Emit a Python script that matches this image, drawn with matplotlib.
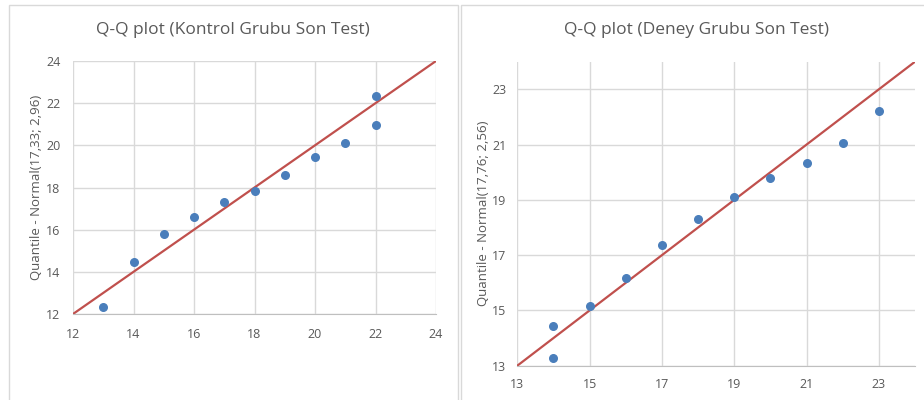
import matplotlib.pyplot as plt
from matplotlib.patches import Rectangle

# Kontrol grubu (sol panel)
kontrol_x = [13, 14, 15, 16, 17, 18, 19, 20, 21, 22, 22]
kontrol_y = [12.33, 14.48, 15.80, 16.61, 17.33, 17.84, 18.59, 19.43, 20.09, 20.96, 22.35]
kontrol_ticks = [12, 14, 16, 18, 20, 22, 24]

# Deney grubu (sag panel)
deney_x = [14, 14, 15, 16, 17, 18, 19, 20, 21, 22, 23]
deney_y = [14.43, 13.29, 15.15, 16.16, 17.38, 18.31, 19.11, 19.80, 20.35, 21.07, 22.23]
deney_ticks = [13, 15, 17, 19, 21, 23]

plt.rcParams['font.family'] = ['Open Sans', 'DejaVu Sans']
txt = '#595959'
grid = '#d9d9d9'
blue = '#4a7ebb'
red = '#c0504d'

fig = plt.figure(figsize=(9.24, 4.0), dpi=100)

# panel frames
fig.patches.append(Rectangle((9 / 924, -0.1), 449 / 924, 1.1 - 5 / 400, transform=fig.transFigure,
                             fill=False, edgecolor='#d9d9d9', lw=1))
fig.patches.append(Rectangle((461 / 924, -0.1), 470 / 924, 1.1 - 5 / 400, transform=fig.transFigure,
                             fill=False, edgecolor='#d9d9d9', lw=1))


def style(ax, ticks, lo, hi):
    ax.set_xlim(lo, hi)
    ax.set_ylim(lo, hi)
    ax.set_xticks(ticks)
    ax.set_yticks(ticks)
    ax.grid(True, color=grid, lw=1.0)
    ax.set_axisbelow(True)
    for s in ['top', 'right', 'left']:
        ax.spines[s].set_visible(False)
    ax.spines['bottom'].set_color('#bfbfbf')
    ax.tick_params(length=0, labelsize=9, colors=txt)


# left
ax1 = fig.add_axes([73 / 924, 1 - 314 / 400, 363 / 924, 253 / 400])
style(ax1, kontrol_ticks, 12, 24)
ax1.plot([12, 24], [12, 24], color=red, lw=1.6, zorder=2)
ax1.scatter(kontrol_x, kontrol_y, s=30, color=blue, zorder=3, clip_on=False)
ax1.tick_params(axis='x', pad=10)
ax1.tick_params(axis='y', pad=9)
ax1.set_ylabel('Quantile - Normal(17,33; 2,96)', fontsize=9.5, color=txt)
ax1.yaxis.set_label_coords(-30 / 363, 0.5)
fig.text(233 / 924, 1 - 30 / 400, 'Q-Q plot (Kontrol Grubu Son Test)', ha='center', va='center',
         fontsize=12.5, color=txt)

# right
ax2 = fig.add_axes([517.3 / 924, 1 - 365.7 / 400, 397.7 / 924, 304 / 400])
style(ax2, deney_ticks, 13, 24)
ax2.plot([13, 24], [13, 24], color=red, lw=1.6, zorder=2)
ax2.scatter(deney_x, deney_y, s=30, color=blue, zorder=3, clip_on=False)
ax2.tick_params(axis='x', pad=9)
ax2.tick_params(axis='y', pad=8)
ax2.set_ylabel('Quantile - Normal(17,76; 2,56)', fontsize=9.5, color=txt)
ax2.yaxis.set_label_coords(-27 / 397.7, 152 / 304)
fig.text(697 / 924, 1 - 30 / 400, 'Q-Q plot (Deney Grubu Son Test)', ha='center', va='center',
         fontsize=12.5, color=txt)

fig.savefig('out.png', dpi=100, facecolor='white')
